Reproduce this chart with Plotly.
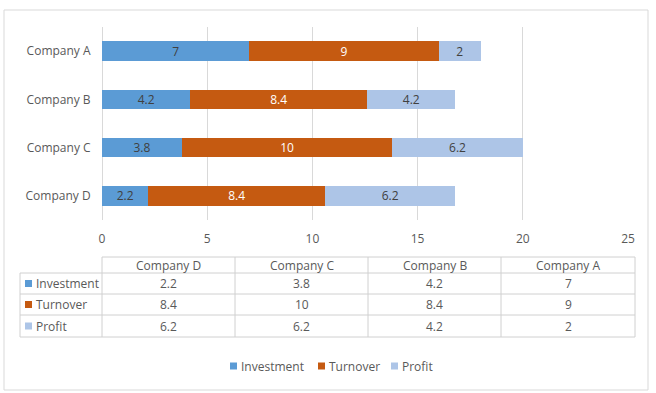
import plotly.graph_objects as go

# ---- data ----
companies = ["Company D", "Company C", "Company B", "Company A"]
series_names = ["Investment", "Turnover", "Profit"]
investment = [2.2, 3.8, 4.2, 7]
turnover = [8.4, 10, 8.4, 9]
profit = [6.2, 6.2, 4.2, 2]
x_ticks = [0, 5, 10, 15, 20, 25]

colors = ["#5B9BD5", "#C55A11", "#ADC5E7"]
label_colors = ["#404040", "#FFFFFF", "#404040"]
FONT = "Open Sans, Liberation Sans, sans-serif"
TXT = "#595959"

W, H = 656, 393
L, R, T, B = 102, 628, 27, 220  # plot area in pixels


def px(x):
    return (x - L) / (R - L)


def py(y):
    return (B - y) / (B - T)


fig = go.Figure()
for name, vals, col, lc in zip(series_names, [investment, turnover, profit], colors, label_colors):
    fig.add_trace(go.Bar(
        y=companies, x=vals, name=name, orientation="h",
        marker=dict(color=col, line=dict(width=0)),
        text=[f"{v:g}" for v in vals], textposition="inside",
        insidetextanchor="middle", textangle=0,
        textfont=dict(color=lc, size=12, family=FONT),
        constraintext="none", showlegend=False, hoverinfo="skip",
    ))

shapes = []
annotations = []

# outer border
shapes.append(dict(type="rect", xref="paper", yref="paper",
                   x0=px(4), x1=px(648), y0=py(10), y1=py(390),
                   line=dict(color="#D9D9D9", width=1), layer="below"))

# ---- data table ----
col_edges = [102, 235, 368, 501, 635]
row_edges = [257, 273, 294, 315, 337]
grid = "#D0D0D0"
shapes.append(dict(type="line", xref="paper", yref="paper",
                   x0=px(col_edges[0]), x1=px(col_edges[-1]), y0=py(row_edges[0]), y1=py(row_edges[0]),
                   line=dict(color=grid, width=1)))
for yy in row_edges[1:]:
    shapes.append(dict(type="line", xref="paper", yref="paper",
                       x0=px(20), x1=px(col_edges[-1]), y0=py(yy), y1=py(yy),
                       line=dict(color=grid, width=1)))
shapes.append(dict(type="line", xref="paper", yref="paper",
                   x0=px(20), x1=px(20), y0=py(row_edges[1]), y1=py(row_edges[-1]),
                   line=dict(color=grid, width=1)))
for xx in col_edges:
    shapes.append(dict(type="line", xref="paper", yref="paper",
                       x0=px(xx), x1=px(xx), y0=py(row_edges[0]), y1=py(row_edges[-1]),
                       line=dict(color=grid, width=1)))

for i, c in enumerate(companies):
    cx = (col_edges[i] + col_edges[i + 1]) / 2
    cy = (row_edges[0] + row_edges[1]) / 2
    annotations.append(dict(xref="paper", yref="paper", x=px(cx), y=py(cy),
                            text=c, showarrow=False, xanchor="center", yanchor="middle",
                            font=dict(size=12, color=TXT, family=FONT)))
for r, (name, vals, col) in enumerate(zip(series_names, [investment, turnover, profit], colors)):
    cy = (row_edges[r + 1] + row_edges[r + 2]) / 2
    shapes.append(dict(type="rect", xref="paper", yref="paper",
                       x0=px(25), x1=px(32), y0=py(cy - 3.5), y1=py(cy + 3.5),
                       fillcolor=col, line=dict(width=0)))
    annotations.append(dict(xref="paper", yref="paper", x=px(34), y=py(cy),
                            text=name, showarrow=False, xanchor="left", yanchor="middle",
                            font=dict(size=12, color=TXT, family=FONT)))
    for i, v in enumerate(vals):
        cx = (col_edges[i] + col_edges[i + 1]) / 2
        annotations.append(dict(xref="paper", yref="paper", x=px(cx), y=py(cy),
                                text=f"{v:g}", showarrow=False, xanchor="center", yanchor="middle",
                                font=dict(size=12, color=TXT, family=FONT)))

# ---- legend (manual) ----
leg_sq = [230, 318, 391]
leg_cy = 366
for name, col, sx in zip(series_names, colors, leg_sq):
    shapes.append(dict(type="rect", xref="paper", yref="paper",
                       x0=px(sx), x1=px(sx + 7), y0=py(leg_cy - 3.5), y1=py(leg_cy + 3.5),
                       fillcolor=col, line=dict(width=0)))
    annotations.append(dict(xref="paper", yref="paper", x=px(sx + 9), y=py(leg_cy),
                            text=name, showarrow=False, xanchor="left", yanchor="middle",
                            font=dict(size=12, color=TXT, family=FONT)))

fig.update_layout(
    width=W, height=H,
    margin=dict(l=L, r=W - R, t=T, b=H - B, pad=0),
    paper_bgcolor="white", plot_bgcolor="white",
    barmode="stack", bargap=0.6,
    font=dict(family=FONT, color=TXT, size=12),
    xaxis=dict(range=[0, 25], tickvals=x_ticks, showgrid=True, gridcolor="#D9D9D9",
               zeroline=True, zerolinecolor="#D9D9D9", zerolinewidth=1, showline=False,
               ticks="outside", ticklen=8, tickcolor="rgba(0,0,0,0)",
               tickfont=dict(size=12, color=TXT, family=FONT), fixedrange=True),
    yaxis=dict(categoryorder="array", categoryarray=companies, showgrid=False,
               showline=False, zeroline=False, ticks="outside", ticklen=8,
               tickcolor="rgba(0,0,0,0)", tickfont=dict(size=12, color=TXT, family=FONT),
               fixedrange=True),
    shapes=shapes, annotations=annotations,
    showlegend=False,
)

fig.write_html("out.html", config={"displayModeBar": False},
               post_script="document.body.style.margin='0';document.body.style.overflow='hidden';")
